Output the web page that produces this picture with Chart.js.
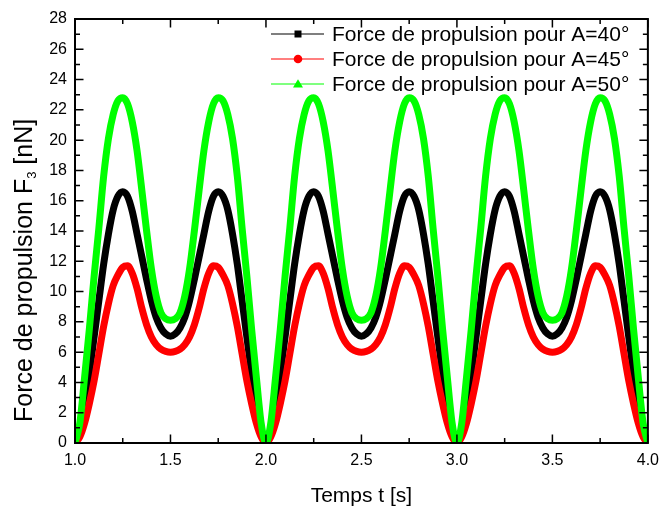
<!DOCTYPE html>
<html>
<head>
<meta charset="utf-8">
<script src="https://cdn.jsdelivr.net/npm/chart.js@4.4.1/dist/chart.umd.min.js"></script>
<style>
  html, body { margin: 0; padding: 0; background: #fff; }
  canvas { display: block; }
</style>
</head>
<body>
<canvas id="c" width="667" height="511"></canvas>
<script>
// ---- Data ----
const times = [
  1.000,1.025,1.050,1.075,1.100,1.125,1.150,1.175,1.200,1.225,1.250,1.275,1.300,1.325,1.350,1.375,1.400,1.425,1.450,1.475,
  1.500,1.525,1.550,1.575,1.600,1.625,1.650,1.675,1.700,1.725,1.750,1.775,1.800,1.825,1.850,1.875,1.900,1.925,1.950,1.975,
  2.000,2.025,2.050,2.075,2.100,2.125,2.150,2.175,2.200,2.225,2.250,2.275,2.300,2.325,2.350,2.375,2.400,2.425,2.450,2.475,
  2.500,2.525,2.550,2.575,2.600,2.625,2.650,2.675,2.700,2.725,2.750,2.775,2.800,2.825,2.850,2.875,2.900,2.925,2.950,2.975,
  3.000,3.025,3.050,3.075,3.100,3.125,3.150,3.175,3.200,3.225,3.250,3.275,3.300,3.325,3.350,3.375,3.400,3.425,3.450,3.475,
  3.500,3.525,3.550,3.575,3.600,3.625,3.650,3.675,3.700,3.725,3.750,3.775,3.800,3.825,3.850,3.875,3.900,3.925,3.950,3.975,
  4.000
];

const forceA40 = [
  0,0.9,2.6,4.6,7.0,9.4,11.8,13.8,15.4,16.3,16.6,16.3,15.3,13.8,12.3,10.8,9.4,8.3,7.6,7.2,
  7.05,7.2,7.6,8.3,9.4,10.8,12.3,13.8,15.3,16.3,16.6,16.3,15.4,13.8,11.8,9.4,7.0,4.6,2.6,0.9,
  0,0.9,2.6,4.6,7.0,9.4,11.8,13.8,15.4,16.3,16.6,16.3,15.3,13.8,12.3,10.8,9.4,8.3,7.6,7.2,
  7.05,7.2,7.6,8.3,9.4,10.8,12.3,13.8,15.3,16.3,16.6,16.3,15.4,13.8,11.8,9.4,7.0,4.6,2.6,0.9,
  0,0.9,2.6,4.6,7.0,9.4,11.8,13.8,15.4,16.3,16.6,16.3,15.3,13.8,12.3,10.8,9.4,8.3,7.6,7.2,
  7.05,7.2,7.6,8.3,9.4,10.8,12.3,13.8,15.3,16.3,16.6,16.3,15.4,13.8,11.8,9.4,7.0,4.6,2.6,0.9,
  0
];

const forceA45 = [
  0,0.4,1.3,2.6,4.1,5.9,7.7,9.2,10.4,11.1,11.6,11.7,11.2,10.2,8.9,7.8,7.0,6.5,6.2,6.05,
  6.0,6.05,6.2,6.5,7.0,7.8,8.9,10.2,11.2,11.7,11.6,11.1,10.4,9.2,7.7,5.9,4.1,2.6,1.3,0.4,
  0,0.4,1.3,2.6,4.1,5.9,7.7,9.2,10.4,11.1,11.6,11.7,11.2,10.2,8.9,7.8,7.0,6.5,6.2,6.05,
  6.0,6.05,6.2,6.5,7.0,7.8,8.9,10.2,11.2,11.7,11.6,11.1,10.4,9.2,7.7,5.9,4.1,2.6,1.3,0.4,
  0,0.4,1.3,2.6,4.1,5.9,7.7,9.2,10.4,11.1,11.6,11.7,11.2,10.2,8.9,7.8,7.0,6.5,6.2,6.05,
  6.0,6.05,6.2,6.5,7.0,7.8,8.9,10.2,11.2,11.7,11.6,11.1,10.4,9.2,7.7,5.9,4.1,2.6,1.3,0.4,
  0
];

const forceA50 = [
  0,1.3,4.3,7.5,11.0,14.2,17.6,20.1,21.7,22.6,22.8,22.4,21.2,19.3,16.7,14.0,11.5,9.7,8.6,8.2,
  8.1,8.2,8.6,9.7,11.5,14.0,16.7,19.3,21.2,22.4,22.8,22.6,21.7,20.1,17.6,14.2,11.0,7.5,4.3,1.3,
  0,1.3,4.3,7.5,11.0,14.2,17.6,20.1,21.7,22.6,22.8,22.4,21.2,19.3,16.7,14.0,11.5,9.7,8.6,8.2,
  8.1,8.2,8.6,9.7,11.5,14.0,16.7,19.3,21.2,22.4,22.8,22.6,21.7,20.1,17.6,14.2,11.0,7.5,4.3,1.3,
  0,1.3,4.3,7.5,11.0,14.2,17.6,20.1,21.7,22.6,22.8,22.4,21.2,19.3,16.7,14.0,11.5,9.7,8.6,8.2,
  8.1,8.2,8.6,9.7,11.5,14.0,16.7,19.3,21.2,22.4,22.8,22.6,21.7,20.1,17.6,14.2,11.0,7.5,4.3,1.3,
  0
];

const seriesNames = [
  'Force de propulsion pour A=40°',
  'Force de propulsion pour A=45°',
  'Force de propulsion pour A=50°'
];
const seriesColors = ['#000000', '#ff0000', '#00ff00'];
const seriesMarkers = ['square', 'circle', 'triangle'];

const xTickLabels = ['1.0','1.5','2.0','2.5','3.0','3.5','4.0'];
const yTickLabels = ['0','2','4','6','8','10','12','14','16','18','20','22','24','26','28'];

const xTitle = 'Temps t [s]';
const yTitleMain = 'Force de propulsion F';
const yTitleSub = '3';
const yTitleEnd = ' [nN]';

// ---- build chart ----
const FONT = '"Liberation Sans", Arial, sans-serif';
const toPts = (vals) => times.map((t, i) => ({ x: t, y: vals[i] }));
const allSeries = [forceA40, forceA45, forceA50];

const datasets = allSeries.map((vals, i) => ({
  label: seriesNames[i],
  data: toPts(vals),
  borderColor: seriesColors[i],
  backgroundColor: seriesColors[i],
  borderWidth: 7,
  pointRadius: 0,
  fill: false,
  cubicInterpolationMode: 'monotone',
  clip: 0,
  order: 3 - i
}));

function drawMarker(ctx, kind, x, y, color) {
  ctx.fillStyle = color;
  ctx.beginPath();
  if (kind === 'square') {
    ctx.rect(x - 3.5, y - 3.5, 7, 7);
  } else if (kind === 'circle') {
    ctx.arc(x, y, 4.3, 0, Math.PI * 2);
  } else {
    ctx.moveTo(x, y - 4.8);
    ctx.lineTo(x + 5, y + 3.6);
    ctx.lineTo(x - 5, y + 3.6);
    ctx.closePath();
  }
  ctx.fill();
}

const decorPlugin = {
  id: 'decor',
  afterDraw(chart) {
    const ctx = chart.ctx;
    const a = chart.chartArea;
    const xs = chart.scales.x, ys = chart.scales.y;
    ctx.save();
    // inward ticks on all four sides
    ctx.strokeStyle = '#000';
    ctx.lineWidth = 1.5;
    ctx.beginPath();
    for (let k = 0; k <= 12; k++) {
      const v = 1 + k * 0.25;
      const px = xs.getPixelForValue(v);
      const len = (k % 2 === 0) ? 8.5 : 5;
      ctx.moveTo(px, a.bottom); ctx.lineTo(px, a.bottom - len);
      ctx.moveTo(px, a.top); ctx.lineTo(px, a.top + len);
    }
    for (let v = 0; v <= 28; v++) {
      const py = ys.getPixelForValue(v);
      const len = (v % 2 === 0) ? 8.5 : 5;
      ctx.moveTo(a.left, py); ctx.lineTo(a.left + len, py);
      ctx.moveTo(a.right, py); ctx.lineTo(a.right - len, py);
    }
    ctx.stroke();
    // frame
    ctx.lineWidth = 2;
    ctx.strokeRect(a.left, a.top, a.right - a.left, a.bottom - a.top);

    // legend
    const rowsY = [34, 59, 84];
    for (let i = 0; i < 3; i++) {
      const ly = rowsY[i];
      ctx.strokeStyle = seriesColors[i];
      ctx.lineWidth = 1.2;
      ctx.beginPath();
      ctx.moveTo(271, ly); ctx.lineTo(324, ly);
      ctx.stroke();
      drawMarker(ctx, seriesMarkers[i], 298, ly, seriesColors[i]);
      ctx.fillStyle = '#000';
      ctx.font = '21px ' + FONT;
      ctx.textAlign = 'left';
      ctx.textBaseline = 'alphabetic';
      ctx.fillText(seriesNames[i], 332, ly + 7);
    }

    // x title
    ctx.fillStyle = '#000';
    ctx.font = '21px ' + FONT;
    ctx.textAlign = 'center';
    ctx.textBaseline = 'alphabetic';
    ctx.fillText(xTitle, (a.left + a.right) / 2, 502);

    // y title (rotated, with subscript)
    ctx.translate(31.5, 422);
    ctx.rotate(-Math.PI / 2);
    ctx.textAlign = 'left';
    ctx.font = '25px ' + FONT;
    ctx.fillText(yTitleMain, 0, 0);
    const w1 = ctx.measureText(yTitleMain).width;
    ctx.font = '13px ' + FONT;
    ctx.fillText(yTitleSub, w1, 4);
    const w2 = ctx.measureText(yTitleSub).width;
    ctx.font = '25px ' + FONT;
    ctx.fillText(yTitleEnd, w1 + w2, 0);
    ctx.restore();
  }
};

new Chart(document.getElementById('c'), {
  type: 'line',
  data: { datasets },
  options: {
    responsive: false,
    animation: false,
    devicePixelRatio: 1,
    layout: { padding: { top: 19, right: 15, left: 0, bottom: 0 } },
    plugins: { legend: { display: false }, tooltip: { enabled: false } },
    scales: {
      x: {
        type: 'linear',
        min: 1, max: 4,
        afterFit: (s) => { s.height = 68; },
        grid: { display: false, drawTicks: false },
        border: { display: false },
        ticks: {
          stepSize: 0.5,
          padding: 8,
          color: '#000',
          font: { family: FONT, size: 16 },
          maxRotation: 0,
          callback: (v, i) => xTickLabels[Math.round((v - 1) / 0.5)] ?? ''
        }
      },
      y: {
        type: 'linear',
        min: 0, max: 28,
        afterFit: (s) => { s.width = 75; },
        grid: { display: false, drawTicks: false },
        border: { display: false },
        ticks: {
          stepSize: 2,
          padding: 8,
          color: '#000',
          font: { family: FONT, size: 16 },
          callback: (v) => yTickLabels[Math.round(v / 2)] ?? ''
        }
      }
    }
  },
  plugins: [decorPlugin]
});
</script>
</body>
</html>
